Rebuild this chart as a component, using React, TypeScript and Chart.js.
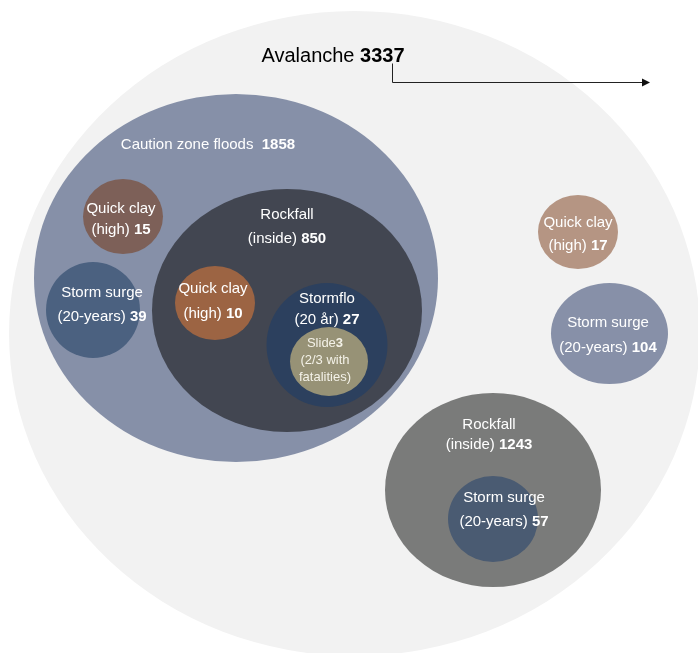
import React, { useEffect, useRef } from "react";
import { Chart, registerables } from "chart.js";

Chart.register(...registerables);

// ---- data ----
const names = [
  "Avalanche",
  "Caution zone floods",
  "Rockfall (inside)",
  "Quick clay (high)",
  "Storm surge (20-years)",
  "Quick clay (high)",
  "Stormflo (20 år)",
  "Slide",
  "Quick clay (high)",
  "Storm surge (20-years)",
  "Rockfall (inside)",
  "Storm surge (20-years)",
];
const values = [3337, 1858, 850, 15, 39, 10, 27, 3, 17, 104, 1243, 57];
const centerX = [354.5, 236, 287, 123, 93, 215, 327, 329, 578, 609.5, 493, 493];
const centerY = [333.5, 278, 310.5, 216.5, 310, 303, 345, 361.5, 232, 333.5, 490, 519];
const radiusX = [345.5, 202, 135, 40, 47, 40, 60.5, 39, 40, 58.5, 108, 45];
const radiusY = [322.5, 184, 121.5, 37.5, 48, 37, 62, 34.5, 37, 50.5, 97, 43];
const fills = [
  "#f2f2f2",
  "#8690a8",
  "#424651",
  "#7d6058",
  "#4b6180",
  "#9c6443",
  "#2c405e",
  "#979276",
  "#b59583",
  "#8790a8",
  "#7a7b7a",
  "#4a5b72",
];
const labelLines = [
  ["Avalanche {v}"],
  ["Caution zone floods  {v}"],
  ["Rockfall", "(inside) {v}"],
  ["Quick clay", "(high) {v}"],
  ["Storm surge", "(20-years) {v}"],
  ["Quick clay", "(high) {v}"],
  ["Stormflo", "(20 år) {v}"],
  ["Slide{v}", "(2/3 with", "fatalities)"],
  ["Quick clay", "(high) {v}"],
  ["Storm surge", "(20-years) {v}"],
  ["Rockfall", "(inside) {v}"],
  ["Storm surge", "(20-years) {v}"],
];
const labelX = [333, 208, 287, 121, 102, 213, 327, 325, 578, 608, 489, 504];
const labelBaseY = [62, 149, 219, 213, 297, 293, 303, 347, 227, 327, 429, 502];
const lineGap = [0, 0, 24, 21, 24, 25, 21, 17, 23, 25, 20, 24];
const fontSizes = [20, 15, 15, 15, 15, 15, 15, 13, 15, 15, 15, 15];
const textColors = [
  "#000000",
  "#ffffff",
  "#ffffff",
  "#ffffff",
  "#ffffff",
  "#ffffff",
  "#ffffff",
  "#f4f2e8",
  "#ffffff",
  "#ffffff",
  "#ffffff",
  "#ffffff",
];
const arrowX = [392, 392, 650];
const arrowY = [63, 82, 82];

const FONT = "'Liberation Sans', Arial, sans-serif";

const ellipsePlugin = {
  id: "ellipses",
  beforeDatasetsDraw(chart: any) {
    const { ctx, scales } = chart;
    const xs = scales.x;
    const ys = scales.y;
    ctx.save();
    for (let i = 0; i < names.length; i++) {
      const px = xs.getPixelForValue(centerX[i]);
      const py = ys.getPixelForValue(centerY[i]);
      const rxp = Math.abs(xs.getPixelForValue(centerX[i] + radiusX[i]) - px);
      const ryp = Math.abs(ys.getPixelForValue(centerY[i] + radiusY[i]) - py);
      ctx.beginPath();
      ctx.ellipse(px, py, rxp, ryp, 0, 0, Math.PI * 2);
      ctx.fillStyle = fills[i];
      ctx.fill();
    }
    ctx.restore();
  },
  afterDatasetsDraw(chart: any) {
    const { ctx, scales } = chart;
    const xs = scales.x;
    const ys = scales.y;
    ctx.save();
    ctx.textBaseline = "alphabetic";
    ctx.textAlign = "left";
    for (let i = 0; i < names.length; i++) {
      const size = fontSizes[i];
      const lines = labelLines[i];
      const cx = xs.getPixelForValue(labelX[i]);
      for (let l = 0; l < lines.length; l++) {
        const by = ys.getPixelForValue(labelBaseY[i] + l * lineGap[i]);
        const pieces = lines[l].split("{v}");
        const parts: { t: string; b: boolean }[] = [];
        pieces.forEach((p, k) => {
          if (p) parts.push({ t: p, b: false });
          if (k < pieces.length - 1) parts.push({ t: String(values[i]), b: true });
        });
        let total = 0;
        const widths = parts.map((p) => {
          ctx.font = `${p.b ? "bold " : ""}${size}px ${FONT}`;
          const w = ctx.measureText(p.t).width;
          total += w;
          return w;
        });
        let x = cx - total / 2;
        ctx.fillStyle = textColors[i];
        parts.forEach((p, k) => {
          ctx.font = `${p.b ? "bold " : ""}${size}px ${FONT}`;
          ctx.fillText(p.t, x, by);
          x += widths[k];
        });
      }
    }
    // arrow
    ctx.strokeStyle = "#222222";
    ctx.fillStyle = "#111111";
    ctx.lineWidth = 1;
    ctx.beginPath();
    for (let k = 0; k < arrowX.length; k++) {
      const ax = Math.round(xs.getPixelForValue(arrowX[k])) + 0.5;
      const ay = Math.round(ys.getPixelForValue(arrowY[k])) + 0.5;
      if (k === 0) ctx.moveTo(ax, ay);
      else ctx.lineTo(k === arrowX.length - 1 ? ax - 6 : ax, ay);
    }
    ctx.stroke();
    const ex = xs.getPixelForValue(arrowX[arrowX.length - 1]);
    const ey = Math.round(ys.getPixelForValue(arrowY[arrowY.length - 1])) + 0.5;
    ctx.beginPath();
    ctx.moveTo(ex, ey);
    ctx.lineTo(ex - 8, ey - 4);
    ctx.lineTo(ex - 8, ey + 4);
    ctx.closePath();
    ctx.fill();
    ctx.restore();
  },
};

export default function App() {
  const canvasRef = useRef<HTMLCanvasElement | null>(null);

  useEffect(() => {
    if (!canvasRef.current) return;
    const chart = new Chart(canvasRef.current, {
      type: "bubble",
      data: {
        datasets: [
          {
            label: "Areas",
            data: names.map((_, i) => ({ x: centerX[i], y: centerY[i], r: 0 })),
            backgroundColor: "rgba(0,0,0,0)",
            borderWidth: 0,
          },
        ],
      },
      options: {
        animation: false,
        responsive: false,
        events: [],
        layout: { padding: 0 },
        plugins: {
          legend: { display: false },
          tooltip: { enabled: false },
        },
        scales: {
          x: { type: "linear", min: 0, max: 698, display: false },
          y: { type: "linear", min: 0, max: 653, reverse: true, display: false },
        },
      },
      plugins: [ellipsePlugin],
    });
    return () => chart.destroy();
  }, []);

  return (
    <div style={{ position: "fixed", left: 0, top: 0, width: 698, height: 653, background: "#ffffff" }}>
      <canvas ref={canvasRef} width={698} height={653} style={{ display: "block" }} />
    </div>
  );
}
